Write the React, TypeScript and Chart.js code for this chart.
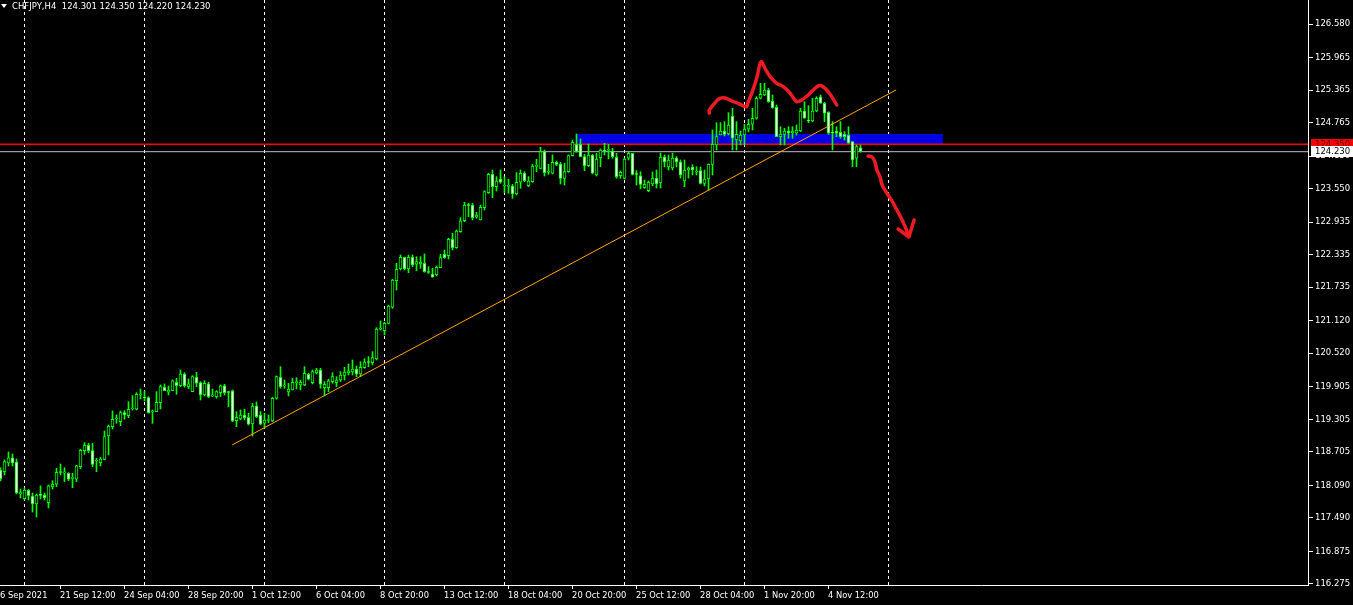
import React, { useEffect, useRef } from 'react';
import { Chart, registerables } from 'chart.js';

Chart.register(...registerables);

// ---- OHLC data (CHFJPY, H4), one entry per bar ----
const opens: number[] = [
  118.373, 118.342, 118.502, 118.594, 118.520, 117.931, 117.844, 117.999, 117.894, 117.747,
  117.913, 117.913, 117.771, 118.066, 118.110, 118.336, 118.318, 118.312, 118.217, 118.202,
  118.434, 118.728, 118.827, 118.728, 118.533, 118.507, 118.569, 118.998, 119.170, 119.311,
  119.262, 119.427, 119.372, 119.495, 119.490, 119.753, 119.716, 119.703, 119.440, 119.446,
  119.611, 119.895, 119.803, 119.832, 119.987, 119.924, 120.139, 119.906, 119.814, 120.079,
  119.979, 119.753, 119.956, 119.735, 119.722, 119.795, 119.919, 119.808, 119.827, 119.280,
  119.311, 119.385, 119.343, 119.219, 119.550, 119.385, 119.232, 119.284, 119.274, 119.692,
  120.079, 119.919, 119.808, 119.845, 119.979, 119.937, 119.937, 120.134, 119.979, 120.163,
  120.213, 119.887, 119.887, 119.998, 119.979, 120.029, 120.115, 120.163, 120.176, 120.231,
  120.139, 120.255, 120.360, 120.347, 120.415, 120.962, 120.936, 121.072, 121.367, 121.856,
  122.072, 122.287, 122.072, 122.287, 122.158, 122.164, 122.177, 122.016, 121.979, 121.961,
  122.096, 122.342, 122.317, 122.618, 122.463, 122.758, 122.960, 123.249, 123.249, 123.023,
  122.973, 123.200, 123.476, 123.814, 123.586, 123.727, 123.599, 123.593, 123.599, 123.451,
  123.667, 123.833, 123.604, 123.678, 123.961, 123.924, 124.230, 123.851, 123.833, 124.035,
  124.004, 123.740, 123.862, 124.157, 124.367, 124.367, 124.138, 123.973, 124.170, 123.801,
  124.120, 124.249, 124.256, 124.243, 124.127, 123.788, 123.740, 124.109, 124.201, 123.820,
  123.788, 123.568, 123.512, 123.636, 123.746, 123.654, 124.133, 123.949, 123.930, 124.114,
  124.041, 123.691, 123.893, 123.949, 123.857, 123.881, 123.648, 123.727, 123.998, 124.354,
  124.538, 124.611, 124.556, 124.887, 124.446, 124.427, 124.538, 124.643, 124.735, 124.845,
  125.213, 125.274, 125.366, 125.163, 125.047, 124.507, 124.550, 124.605, 124.574, 124.569,
  124.611, 124.979, 124.814, 124.795, 124.979, 125.242, 125.121, 124.955, 124.580, 124.611,
  124.587, 124.550, 124.538, 124.414, 124.109, 124.301,
];

const highs: number[] = [
  118.410, 118.557, 118.704, 118.667, 118.575, 118.023, 118.042, 118.014, 117.950, 117.931,
  118.079, 117.950, 118.097, 118.176, 118.404, 118.483, 118.415, 118.323, 118.312, 118.459,
  118.754, 118.875, 118.864, 118.864, 118.588, 118.606, 119.090, 119.201, 119.458, 119.385,
  119.458, 119.464, 119.630, 119.740, 119.795, 119.863, 119.827, 119.722, 119.477, 119.814,
  119.937, 119.956, 119.919, 120.029, 120.060, 120.213, 120.163, 120.048, 120.108, 120.170,
  119.998, 120.016, 119.987, 119.863, 119.832, 119.937, 119.950, 119.818, 119.845, 119.446,
  119.477, 119.490, 119.416, 119.600, 119.624, 119.446, 119.416, 119.385, 119.710, 120.103,
  120.274, 120.029, 119.968, 120.060, 120.071, 120.029, 120.274, 120.152, 120.213, 120.244,
  120.244, 119.998, 120.042, 120.163, 120.090, 120.182, 120.262, 120.323, 120.397, 120.286,
  120.366, 120.421, 120.458, 120.550, 120.991, 121.115, 121.091, 121.404, 121.882, 122.177,
  122.329, 122.287, 122.329, 122.329, 122.298, 122.298, 122.348, 122.114, 122.084, 122.127,
  122.342, 122.421, 122.637, 122.728, 122.789, 123.016, 123.299, 123.280, 123.280, 123.115,
  123.249, 123.512, 123.833, 123.893, 123.770, 123.893, 123.770, 123.722, 123.630, 123.844,
  123.893, 123.862, 123.770, 123.998, 124.091, 124.311, 124.262, 123.998, 124.170, 124.059,
  124.035, 124.017, 124.170, 124.446, 124.556, 124.464, 124.182, 124.372, 124.182, 124.201,
  124.280, 124.384, 124.367, 124.293, 124.201, 123.875, 124.109, 124.219, 124.201, 123.881,
  123.862, 123.709, 123.691, 123.857, 123.893, 124.206, 124.170, 124.170, 124.206, 124.138,
  124.078, 124.078, 123.949, 123.991, 123.955, 123.949, 123.893, 124.004, 124.630, 124.764,
  124.764, 124.783, 124.948, 125.029, 124.783, 124.611, 124.735, 124.826, 125.029, 125.242,
  125.489, 125.489, 125.397, 125.274, 125.090, 124.690, 124.661, 124.690, 124.690, 124.722,
  125.029, 125.150, 125.077, 125.213, 125.242, 125.274, 125.139, 124.966, 124.783, 124.690,
  124.783, 124.598, 124.690, 124.414, 124.354, 124.350,
];

const lows: number[] = [
  118.171, 118.281, 118.447, 118.447, 117.931, 117.857, 117.820, 117.820, 117.599, 117.507,
  117.839, 117.820, 117.673, 118.023, 118.066, 118.281, 118.157, 118.176, 118.047, 118.157,
  118.397, 118.662, 118.691, 118.434, 118.342, 118.447, 118.557, 118.649, 119.127, 119.232,
  119.188, 119.306, 119.335, 119.477, 119.477, 119.679, 119.642, 119.416, 119.232, 119.446,
  119.495, 119.832, 119.753, 119.832, 119.766, 119.906, 119.895, 119.869, 119.814, 119.906,
  119.661, 119.735, 119.703, 119.722, 119.692, 119.722, 119.753, 119.537, 119.262, 119.170,
  119.293, 119.293, 119.201, 118.998, 119.335, 119.201, 119.140, 119.243, 119.262, 119.674,
  119.876, 119.876, 119.735, 119.845, 119.863, 119.845, 119.924, 120.029, 119.956, 120.139,
  119.876, 119.735, 119.814, 119.968, 119.906, 119.998, 120.029, 120.121, 120.121, 120.090,
  120.090, 120.244, 120.274, 120.305, 120.397, 120.949, 120.857, 121.059, 121.348, 121.685,
  122.053, 122.053, 122.003, 122.114, 122.040, 122.084, 122.011, 121.992, 121.919, 121.943,
  122.096, 122.268, 122.256, 122.421, 122.452, 122.747, 122.942, 123.034, 122.973, 123.004,
  122.973, 123.157, 123.464, 123.384, 123.507, 123.648, 123.476, 123.464, 123.372, 123.433,
  123.557, 123.678, 123.586, 123.667, 123.862, 123.912, 123.783, 123.814, 123.820, 123.973,
  123.636, 123.617, 123.851, 124.151, 124.219, 124.138, 123.881, 123.955, 123.820, 123.783,
  123.955, 124.170, 124.096, 124.109, 123.740, 123.740, 123.727, 124.078, 123.801, 123.617,
  123.544, 123.557, 123.494, 123.599, 123.562, 123.562, 123.949, 123.893, 123.893, 123.949,
  123.746, 123.586, 123.746, 123.801, 123.801, 123.636, 123.599, 123.525, 123.801, 124.262,
  124.538, 124.519, 124.538, 124.262, 124.262, 124.354, 124.354, 124.593, 124.630, 124.826,
  125.200, 125.261, 125.139, 125.029, 124.507, 124.354, 124.354, 124.477, 124.477, 124.538,
  124.598, 124.845, 124.764, 124.782, 124.966, 125.121, 124.782, 124.550, 124.262, 124.507,
  124.477, 124.446, 124.385, 123.955, 123.955, 124.220,
];

const closes: number[] = [
  118.207, 118.526, 118.594, 118.502, 117.950, 117.959, 118.005, 117.900, 117.747, 117.913,
  117.904, 117.857, 118.079, 118.110, 118.331, 118.327, 118.336, 118.202, 118.226, 118.447,
  118.735, 118.827, 118.728, 118.477, 118.544, 118.575, 118.985, 119.182, 119.306, 119.324,
  119.427, 119.385, 119.490, 119.514, 119.766, 119.766, 119.698, 119.427, 119.458, 119.619,
  119.906, 119.832, 119.845, 120.011, 119.924, 120.139, 119.924, 119.956, 120.090, 119.968,
  119.758, 119.968, 119.722, 119.735, 119.814, 119.919, 119.795, 119.799, 119.274, 119.343,
  119.385, 119.335, 119.214, 119.550, 119.354, 119.214, 119.293, 119.289, 119.692, 120.090,
  119.906, 119.928, 119.863, 119.987, 119.987, 119.987, 120.152, 120.042, 120.182, 120.213,
  119.950, 119.950, 120.011, 120.090, 120.029, 120.121, 120.176, 120.195, 120.231, 120.139,
  120.262, 120.360, 120.351, 120.439, 120.967, 120.973, 121.072, 121.391, 121.869, 122.066,
  122.287, 122.072, 122.287, 122.145, 122.206, 122.200, 122.022, 122.007, 121.919, 122.103,
  122.280, 122.280, 122.618, 122.463, 122.771, 122.960, 123.249, 123.240, 123.016, 123.065,
  123.207, 123.494, 123.814, 123.586, 123.691, 123.667, 123.608, 123.599, 123.451, 123.667,
  123.833, 123.697, 123.691, 123.967, 123.967, 124.230, 123.844, 123.857, 124.035, 123.998,
  123.740, 123.862, 124.157, 124.403, 124.230, 124.138, 123.973, 124.170, 123.833, 124.096,
  124.262, 124.238, 124.262, 124.138, 123.770, 123.851, 124.096, 124.201, 123.814, 123.811,
  123.630, 123.630, 123.667, 123.746, 123.636, 124.133, 124.041, 124.078, 124.114, 124.041,
  123.801, 123.893, 123.930, 123.893, 123.875, 123.648, 123.727, 123.998, 124.367, 124.507,
  124.611, 124.550, 124.722, 124.477, 124.550, 124.538, 124.648, 124.735, 124.845, 125.213,
  125.287, 125.366, 125.150, 125.040, 124.507, 124.556, 124.611, 124.574, 124.611, 124.630,
  124.979, 124.845, 124.795, 124.979, 125.213, 125.121, 124.937, 124.569, 124.569, 124.569,
  124.507, 124.507, 124.385, 124.078, 124.322, 124.230,
];

// ---- axes ----
const yTickValues: number[] = [
  126.58, 125.965, 125.365, 124.765, 124.15, 123.55, 122.935, 122.335, 121.735,
  121.12, 120.52, 119.905, 119.305, 118.705, 118.09, 117.49, 116.875, 116.275,
];
const xLabelBars: number[] = [0, 15, 31, 47, 63, 79, 95, 111, 127, 143, 159, 175, 191, 207];
const xLabelTexts: string[] = [
  '6 Sep 2021', '21 Sep 12:00', '24 Sep 04:00', '28 Sep 20:00', '1 Oct 12:00', '6 Oct 04:00',
  '8 Oct 20:00', '13 Oct 12:00', '18 Oct 04:00', '20 Oct 20:00', '25 Oct 12:00', '28 Oct 04:00',
  '1 Nov 20:00', '4 Nov 12:00',
];
const gridBars: number[] = [6, 36, 66, 96, 126, 156, 186, 222];

// ---- drawn objects ----
const trendBars: number[] = [57.9, 223.9];
const trendPrices: number[] = [118.833, 125.366];
const zoneBars: number[] = [144.05, 235.6];
const zoneTop = 124.556;
const zoneBottom = 124.37;
const hLinePrice = 124.365;
const hLineLabel = '124.350';
const bidPrice = 124.23;
const bidLabel = '124.230';
const curve1Bars: number[] = [177.2, 177.2, 178.2, 179.45, 180.7, 181.95, 183.2, 184.45, 185.7, 186.55, 186.95, 187.8, 189.05, 189.9, 190.3, 191.1, 192.4, 194.05, 195.7, 197.4, 199.05, 200.3, 201.95, 203.2, 204.45, 205.3, 206.55, 207.8, 209.05];
const curve1Prices: number[] = [124.937, 124.998, 125.09, 125.195, 125.224, 125.195, 125.151, 125.121, 125.071, 125.058, 125.151, 125.305, 125.581, 125.857, 125.887, 125.765, 125.611, 125.489, 125.427, 125.305, 125.151, 125.182, 125.274, 125.366, 125.44, 125.44, 125.366, 125.243, 125.09];
const curve2Bars: number[] = [216.9, 217.9, 218.6, 219.1, 219.9, 220.4, 221.1, 221.9, 222.9, 224.1, 225.4, 226.4, 227.1];
const curve2Prices: number[] = [124.152, 124.133, 124.041, 123.893, 123.764, 123.617, 123.525, 123.433, 123.322, 123.157, 122.973, 122.807, 122.679];
const arrowBars: number[] = [224.4, 227.1, 228.4];
const arrowPrices: number[] = [122.807, 122.66, 122.973];

const X_MIN = -0.125;
const X_MAX = 326.875;
const Y_MIN = 116.2559;
const Y_MAX = 127.0217;
const FONT = 'DejaVu Sans';
const GREEN = '#00ff00';
const RED = '#ed1c24';

const pts = (xs: number[], ys: number[]) => xs.map((x, i) => ({ x, y: ys[i] }));

const priceTags = {
  id: 'priceTags',
  afterDraw(chart: any) {
    const { ctx } = chart;
    const ys = chart.scales.y;
    const left = chart.chartArea.right + 3;
    const w = chart.width - left;
    const draw = (price: number, bg: string, fg: string, text: string) => {
      const cy = ys.getPixelForValue(price);
      const top = Math.round(cy - 5.5);
      ctx.save();
      ctx.fillStyle = bg;
      ctx.fillRect(left, top, w, 11);
      ctx.fillStyle = fg;
      ctx.font = `8.5px "${FONT}"`;
      ctx.textBaseline = 'middle';
      ctx.textAlign = 'left';
      ctx.fillText(text, left + 4, top + 6);
      ctx.restore();
    };
    draw(hLinePrice, '#ff0000', '#5a0000', hLineLabel);
    draw(bidPrice, '#ffffff', '#000000', bidLabel);
  },
};

export default function App() {
  const ref = useRef<HTMLCanvasElement>(null);

  useEffect(() => {
    document.body.style.margin = '0';
    document.body.style.background = '#000';
    document.body.style.overflow = 'hidden';
    const canvas = ref.current;
    if (!canvas) return;

    const wickData = highs.map((h, i) => ({ x: i, y: [lows[i], h] }));
    const bodyData = opens.map((o, i) => ({ x: i, y: [o, closes[i]] }));
    const bodyFill = opens.map((o, i) => (closes[i] >= o ? '#000000' : '#ffffff'));
    const tickBars = [...new Set([...xLabelBars, ...gridBars])].sort((a, b) => a - b);

    const lineBase = {
      type: 'line' as const,
      pointRadius: 0,
      fill: false,
      tension: 0,
    };

    const chart = new Chart(canvas, {
      type: 'line',
      data: {
        datasets: [
          {
            ...lineBase,
            label: 'zoneTop',
            data: pts(zoneBars, [zoneTop, zoneTop]),
            borderColor: 'rgba(0,0,0,0)',
            backgroundColor: '#0000e6',
            fill: '+1',
            order: 10,
          },
          {
            ...lineBase,
            label: 'zoneBottom',
            data: pts(zoneBars, [zoneBottom, zoneBottom]),
            borderColor: 'rgba(0,0,0,0)',
            order: 10,
          },
          {
            ...lineBase,
            label: 'bid',
            data: pts([X_MIN, X_MAX], [bidPrice, bidPrice]),
            borderColor: '#c0c0c0',
            borderWidth: 1,
            order: 9,
          },
          {
            ...lineBase,
            label: 'hline',
            data: pts([X_MIN, X_MAX], [hLinePrice, hLinePrice]),
            borderColor: '#ff0000',
            borderWidth: 1.5,
            order: 8,
          },
          {
            type: 'bar',
            label: 'wicks',
            data: wickData as any,
            backgroundColor: GREEN,
            borderWidth: 0,
            barThickness: 1,
            grouped: false,
            minBarLength: 1,
            order: 7,
          },
          {
            type: 'bar',
            label: 'bodies',
            data: bodyData as any,
            backgroundColor: bodyFill,
            borderColor: GREEN,
            borderWidth: 1,
            borderSkipped: false,
            barThickness: 3,
            grouped: false,
            minBarLength: 1,
            order: 6,
          },
          {
            ...lineBase,
            label: 'trend',
            data: pts(trendBars, trendPrices),
            borderColor: '#ffa500',
            borderWidth: 1,
            order: 5,
          },
          {
            ...lineBase,
            label: 'curve1',
            data: pts(curve1Bars, curve1Prices),
            borderColor: RED,
            borderWidth: 3.5,
            tension: 0.3,
            borderCapStyle: 'round',
            borderJoinStyle: 'round',
            order: 1,
          },
          {
            ...lineBase,
            label: 'curve2',
            data: pts(curve2Bars, curve2Prices),
            borderColor: RED,
            borderWidth: 3.5,
            tension: 0.3,
            borderCapStyle: 'round',
            borderJoinStyle: 'round',
            order: 1,
          },
          {
            ...lineBase,
            label: 'arrow',
            data: pts(arrowBars, arrowPrices),
            borderColor: RED,
            borderWidth: 3.5,
            borderCapStyle: 'round',
            borderJoinStyle: 'round',
            order: 1,
          },
        ] as any,
      },
      options: {
        responsive: false,
        devicePixelRatio: 1,
        animation: false,
        events: [],
        layout: { padding: 0 },
        plugins: {
          legend: { display: false },
          tooltip: { enabled: false },
          title: { display: false },
        },
        scales: {
          x: {
            type: 'linear',
            min: X_MIN,
            max: X_MAX,
            offset: false,
            afterBuildTicks: (scale: any) => {
              scale.ticks = tickBars.map((v) => ({ value: v - 0.1 }));
            },
            afterFit: (scale: any) => {
              scale.height = 20;
              scale.paddingLeft = 0;
              scale.paddingRight = 0;
            },
            grid: {
              offset: false,
              drawOnChartArea: true,
              drawTicks: true,
              tickLength: 4,
              lineWidth: 1,
              color: (c: any) =>
                c.tick && gridBars.includes(Math.round(c.tick.value)) ? '#ffffff' : 'rgba(0,0,0,0)',
              tickColor: (c: any) =>
                c.tick && xLabelBars.includes(Math.round(c.tick.value)) && Math.round(c.tick.value) !== 0
                  ? '#ffffff'
                  : 'rgba(0,0,0,0)',
            },
            border: { display: true, color: '#ffffff', width: 1, dash: [3, 3] },
            ticks: {
              autoSkip: false,
              maxRotation: 0,
              minRotation: 0,
              padding: 0,
              align: 'start',
              color: '#ffffff',
              font: { family: FONT, size: 8.3, lineHeight: 1.7 },
              callback: (v: any) => {
                const k = xLabelBars.indexOf(Math.round(Number(v)));
                return k >= 0 ? xLabelTexts[k] : '';
              },
            },
          },
          y: {
            type: 'linear',
            position: 'right',
            min: Y_MIN,
            max: Y_MAX,
            beginAtZero: false,
            afterBuildTicks: (scale: any) => {
              scale.ticks = yTickValues.map((v) => ({ value: v }));
            },
            afterFit: (scale: any) => {
              scale.width = 45;
              scale.paddingTop = 0;
              scale.paddingBottom = 0;
            },
            grid: {
              drawOnChartArea: false,
              drawTicks: true,
              tickLength: 5,
              color: '#ffffff',
              tickColor: '#ffffff',
            },
            border: { display: true, color: '#ffffff', width: 1 },
            ticks: {
              autoSkip: false,
              padding: 2,
              color: '#ffffff',
              font: { family: FONT, size: 8.5 },
              callback: (v: any) => Number(v).toFixed(3),
            },
          },
        },
      } as any,
      plugins: [priceTags],
    });

    return () => chart.destroy();
  }, []);

  return (
    <div style={{ position: 'relative', width: 1353, height: 605, background: '#000', overflow: 'hidden' }}>
      <canvas ref={ref} width={1353} height={605} style={{ display: 'block' }} />
      <div
        style={{
          position: 'absolute',
          left: 1,
          top: 4,
          width: 0,
          height: 0,
          borderLeft: '3px solid transparent',
          borderRight: '3px solid transparent',
          borderTop: '4px solid #ffffff',
        }}
      />
      <div
        style={{
          position: 'absolute',
          left: 12,
          top: 0,
          font: `8.5px "${FONT}"`,
          lineHeight: '13px',
          color: '#ffffff',
          whiteSpace: 'pre',
        }}
      >
        {'CHFJPY,H4  124.301 124.350 124.220 124.230'}
      </div>
    </div>
  );
}
